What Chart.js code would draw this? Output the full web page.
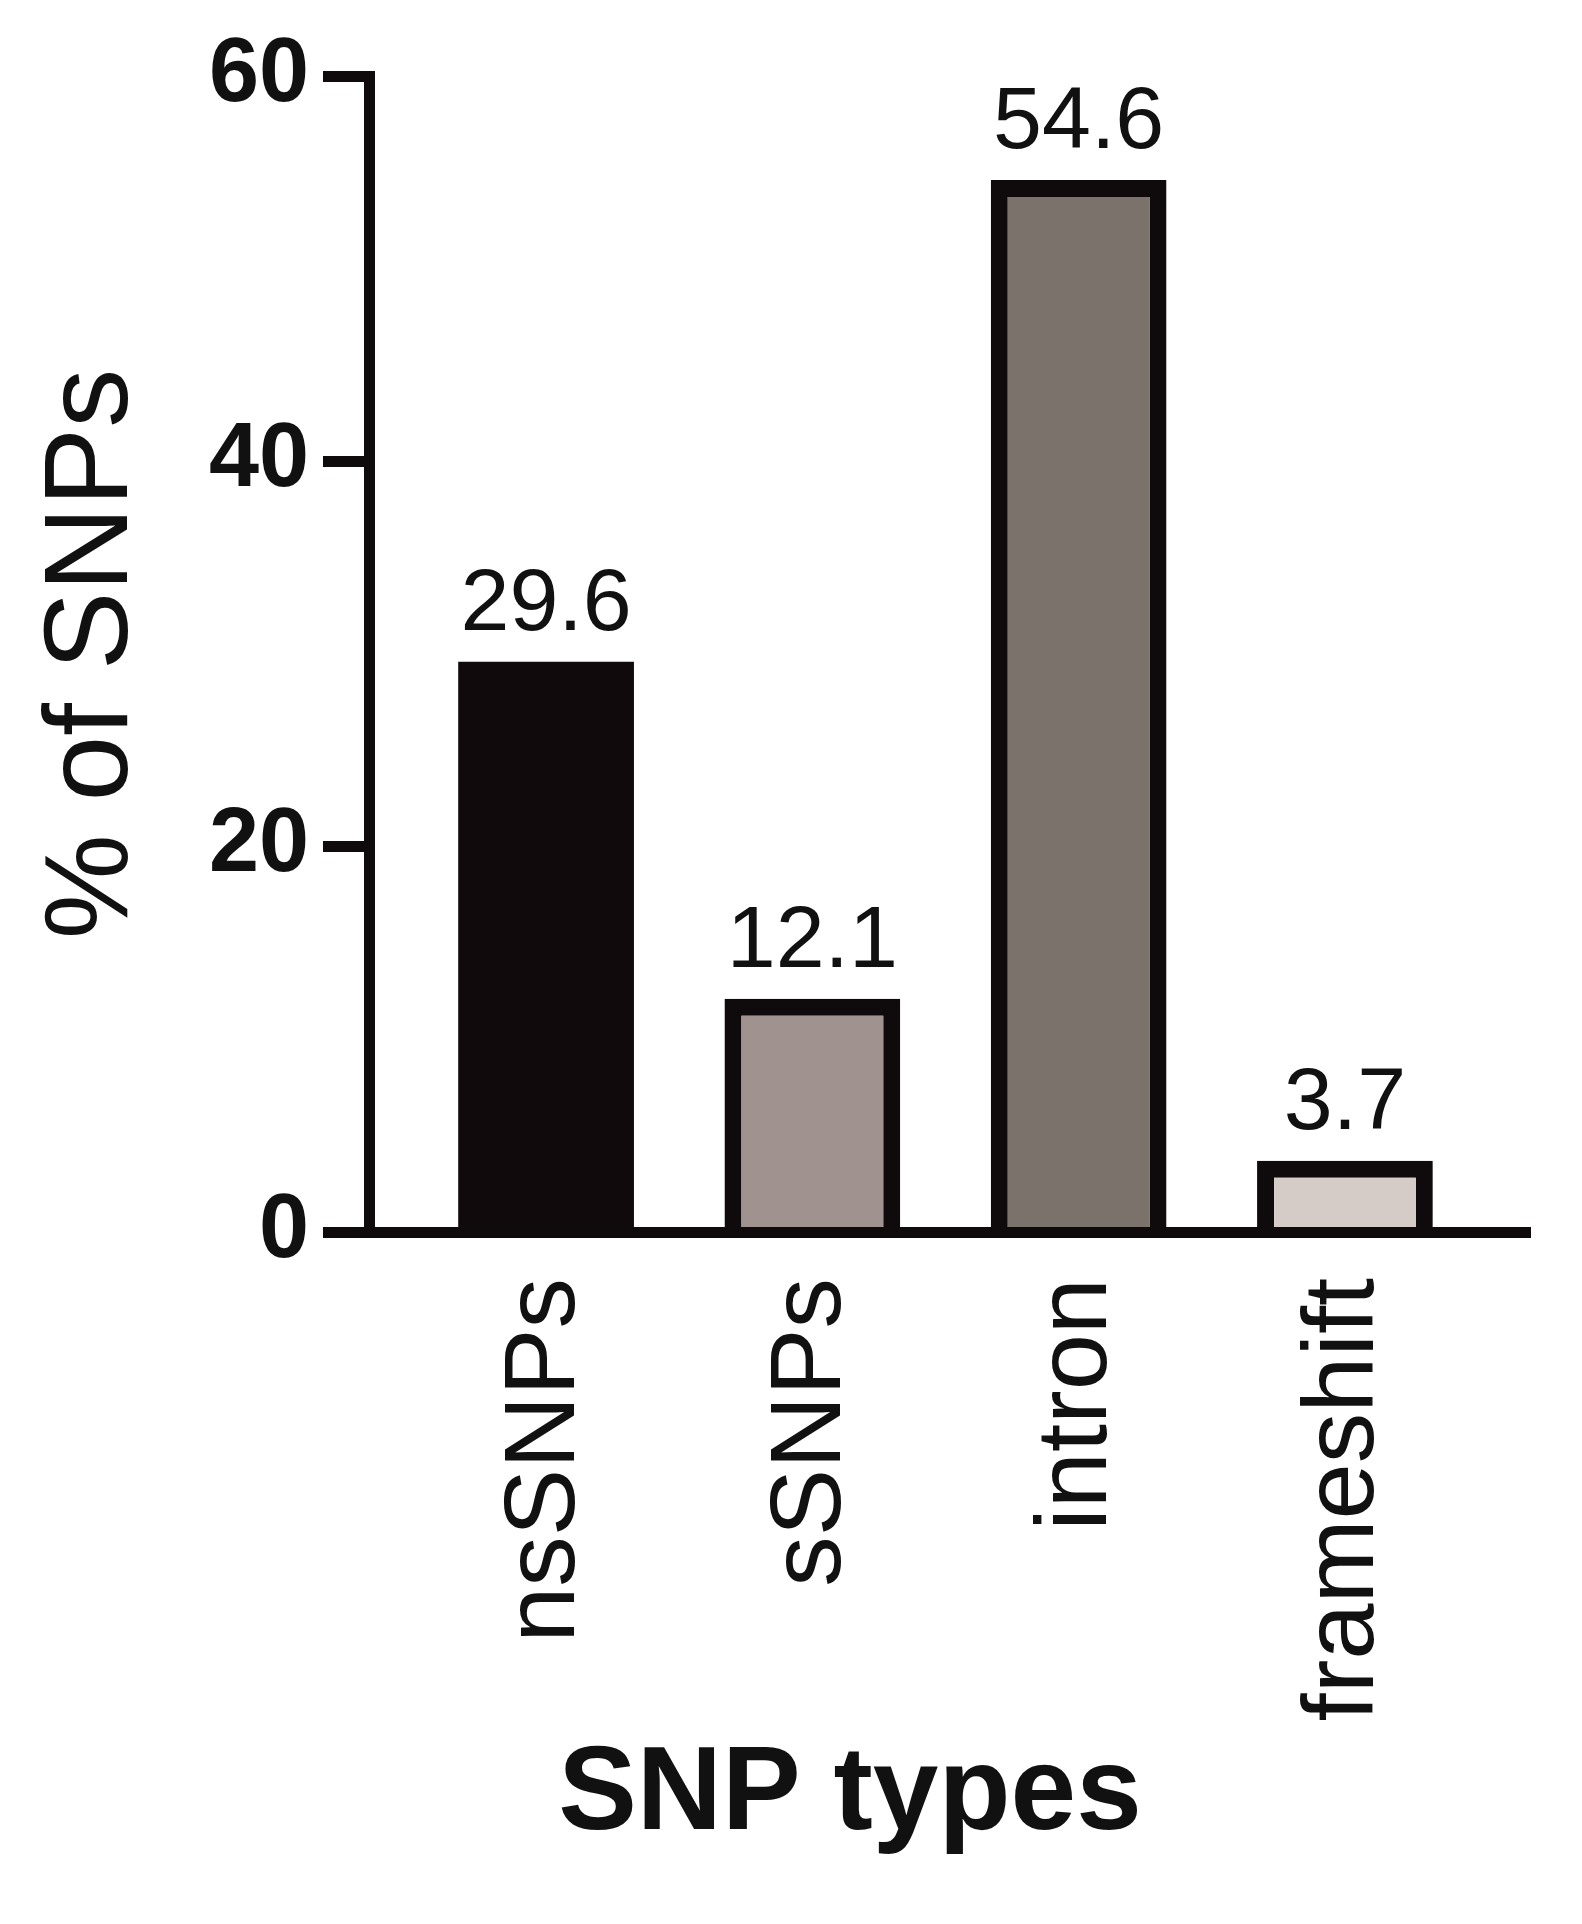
<!DOCTYPE html>
<html>
<head>
<meta charset="utf-8">
<script src="https://cdn.jsdelivr.net/npm/chart.js@4/dist/chart.umd.min.js"></script>
<style>
  html, body { margin: 0; padding: 0; background: #ffffff; }
  #wrap { width: 1582px; height: 1924px; }
</style>
</head>
<body>
<div id="wrap"><canvas id="c" width="1582" height="1924"></canvas></div>
<script>
// ---- data ----
const categories = ['nsSNPs', 'sSNPs', 'intron', 'frameshift'];
const percentValues = [29.6, 12.1, 54.6, 3.7];
const valueLabels = ['29.6', '12.1', '54.6', '3.7'];
const yTicks = [0, 20, 40, 60];
const barColors = ['#100a0d', '#a0938f', '#7b726c', '#d6ccc7'];
const borderWidths = [0, 17, 17, 17];
const yTitle = '% of SNPs';
const xTitle = 'SNP types';

const FONT = "'Liberation Sans', Arial, Helvetica, sans-serif";
const INK = '#0f0a0c';

const valueLabelPlugin = {
  id: 'valueLabels',
  afterDatasetsDraw(chart) {
    const ctx = chart.ctx;
    const meta = chart.getDatasetMeta(0);
    ctx.save();
    ctx.font = "88px " + FONT;
    ctx.fillStyle = '#111';
    ctx.textAlign = 'center';
    ctx.textBaseline = 'alphabetic';
    meta.data.forEach((el, i) => {
      ctx.fillText(valueLabels[i], el.x, el.y - 32);
    });
    ctx.restore();
  }
};

const xTitlePlugin = {
  id: 'xTitle',
  afterDraw(chart) {
    const ctx = chart.ctx;
    const a = chart.chartArea;
    ctx.save();
    ctx.font = "bold 118px " + FONT;
    ctx.fillStyle = '#111';
    ctx.textAlign = 'center';
    ctx.textBaseline = 'alphabetic';
    ctx.fillText(xTitle, a.left + 481, a.bottom + 597);
    ctx.restore();
  }
};

new Chart(document.getElementById('c'), {
  type: 'bar',
  data: {
    datasets: [{
      data: categories.map((c, i) => ({ x: i, y: percentValues[i] })),
      backgroundColor: barColors,
      borderColor: INK,
      borderWidth: borderWidths,
      borderSkipped: 'start',
      categoryPercentage: 1,
      barPercentage: 0.66
    }]
  },
  options: {
    responsive: false,
    animation: false,
    events: [],
    layout: { padding: { left: 0, top: 76, right: 52, bottom: 0 } },
    plugins: {
      legend: { display: false },
      tooltip: { enabled: false },
      title: { display: false }
    },
    scales: {
      x: {
        type: 'linear',
        offset: false,
        min: -0.665,
        max: 3.695,
        afterBuildTicks(scale) {
          scale.ticks = categories.map((c, i) => ({ value: i }));
        },
        afterFit(scale) { scale.height = 692; },
        grid: { display: false, drawTicks: false, offset: false },
        border: { display: true, color: INK, width: 11, z: 1 },
        ticks: {
          autoSkip: false,
          minRotation: 90,
          maxRotation: 90,
          padding: 46,
          color: '#111',
          font: { family: FONT, size: 101 },
          callback: (v) => categories[v]
        }
      },
      y: {
        min: 0,
        max: 60,
        afterBuildTicks(scale) {
          scale.ticks = yTicks.map(v => ({ value: v }));
        },
        afterFit(scale) { scale.width = 369; },
        grid: {
          drawOnChartArea: false,
          drawTicks: true,
          tickLength: 46,
          tickWidth: 11,
          tickColor: INK
        },
        border: { display: true, color: INK, width: 11, z: 1 },
        ticks: {
          padding: 14,
          color: '#111',
          font: { family: FONT, size: 90, weight: 'bold' }
        },
        title: {
          display: true,
          text: yTitle,
          color: '#111',
          font: { family: FONT, size: 118 },
          padding: { top: 24, bottom: 0 }
        }
      }
    }
  },
  plugins: [valueLabelPlugin, xTitlePlugin]
});
</script>
</body>
</html>
